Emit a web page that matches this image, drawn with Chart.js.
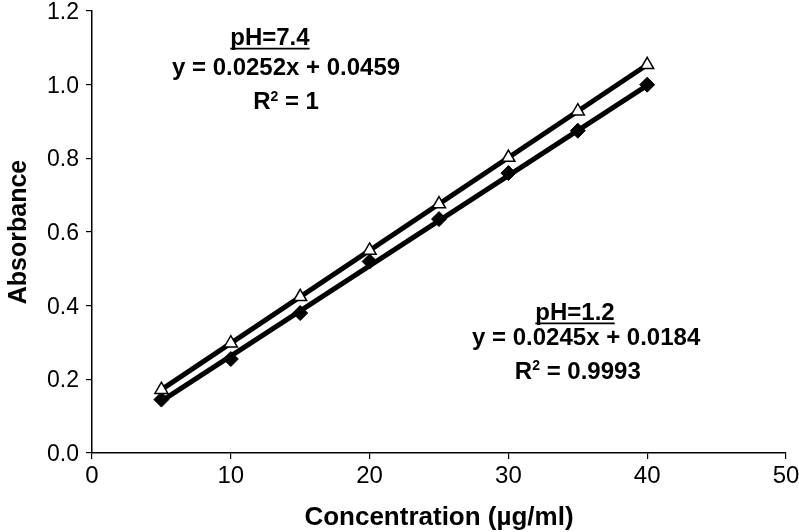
<!DOCTYPE html>
<html>
<head>
<meta charset="utf-8">
<script src="https://cdn.jsdelivr.net/npm/chart.js@4.4.1/dist/chart.umd.min.js"></script>
<style>
html,body{margin:0;padding:0;background:#fff;overflow:hidden;}
#wrap{width:799px;height:532px;}
</style>
</head>
<body>
<div id="wrap"><canvas id="c" width="799" height="532"></canvas></div>
<script>
const concentrations = [5, 10, 15, 20, 25, 30, 35, 40];
const absorbancePH74 = [0.172, 0.298, 0.424, 0.550, 0.676, 0.802, 0.928, 1.054];
const absorbancePH12 = [0.145, 0.255, 0.380, 0.520, 0.635, 0.760, 0.875, 1.000];
const trendX = [5, 40];
const trendPH74 = [0.172, 1.054];
const trendPH12 = [0.141, 0.998];
const xTicks = [0, 10, 20, 30, 40, 50];
const yTicks = [0.0, 0.2, 0.4, 0.6, 0.8, 1.0, 1.2];

const labelPH74 = ['pH=7.4', 'y = 0.0252x + 0.0459', '1'];
const labelPH12 = ['pH=1.2', 'y = 0.0245x + 0.0184', '0.9993'];
// annotation anchors in data units [title, equation, R2]
const annotPH74 = {x: [12.82, 13.98, 13.98], y: [1.125, 1.044, 0.951]};
const annotPH12 = {x: [34.8, 35.6, 35.0], y: [0.379, 0.310, 0.220]};

const toPts = (xs, ys) => xs.map((x, i) => ({x: x, y: ys[i]}));
const FAM = '"Liberation Sans", Arial, sans-serif';

const annotPlugin = {
  id: 'annot',
  afterDatasetsDraw(chart) {
    const ctx = chart.ctx;
    const xs = chart.scales.x, ys = chart.scales.y;
    const font = 'bold 24px ' + FAM;
    const small = 'bold 14px ' + FAM;
    function block(lbl, a) {
      ctx.save();
      ctx.fillStyle = '#000';
      ctx.strokeStyle = '#000';
      ctx.font = font;
      ctx.textAlign = 'center';
      ctx.textBaseline = 'middle';
      let px = xs.getPixelForValue(a.x[0]), py = ys.getPixelForValue(a.y[0]);
      ctx.fillText(lbl[0], px, py);
      const w = ctx.measureText(lbl[0]).width;
      ctx.lineWidth = 1.6;
      ctx.beginPath();
      ctx.moveTo(px - w / 2, py + 10);
      ctx.lineTo(px + w / 2, py + 10);
      ctx.stroke();
      px = xs.getPixelForValue(a.x[1]); py = ys.getPixelForValue(a.y[1]);
      ctx.fillText(lbl[1], px, py);
      px = xs.getPixelForValue(a.x[2]); py = ys.getPixelForValue(a.y[2]);
      const rest = ' = ' + lbl[2];
      const wR = ctx.measureText('R').width;
      const wRest = ctx.measureText(rest).width;
      ctx.font = small;
      const w2 = ctx.measureText('2').width;
      const sx = px - (wR + w2 + wRest) / 2;
      ctx.textAlign = 'left';
      ctx.font = font;
      ctx.fillText('R', sx, py);
      ctx.font = small;
      ctx.fillText('2', sx + wR, py - 6);
      ctx.font = font;
      ctx.fillText(rest, sx + wR + w2, py);
      ctx.restore();
    }
    block(labelPH74, annotPH74);
    block(labelPH12, annotPH12);
  }
};

new Chart(document.getElementById('c'), {
  type: 'scatter',
  data: {
    datasets: [
      {
        label: 'pH=7.4',
        data: toPts(concentrations, absorbancePH74),
        pointStyle: 'triangle',
        pointRadius: 7.5,
        pointBorderWidth: 1.5,
        pointBackgroundColor: '#fff',
        pointBorderColor: '#000',
        showLine: false
      },
      {
        label: 'pH=1.2',
        data: toPts(concentrations, absorbancePH12),
        pointStyle: 'rectRot',
        pointRadius: 7.5,
        pointBorderWidth: 1,
        pointBackgroundColor: '#000',
        pointBorderColor: '#000',
        showLine: false
      },
      {
        label: 'trend 7.4',
        data: toPts(trendX, trendPH74),
        showLine: true,
        borderColor: '#000',
        borderWidth: 5,
        pointRadius: 0
      },
      {
        label: 'trend 1.2',
        data: toPts(trendX, trendPH12),
        showLine: true,
        borderColor: '#000',
        borderWidth: 5,
        pointRadius: 0
      }
    ]
  },
  options: {
    responsive: false,
    animation: false,
    events: [],
    layout: {padding: {top: 11, right: 13, left: 0, bottom: 0}},
    plugins: {legend: {display: false}, tooltip: {enabled: false}},
    scales: {
      x: {
        type: 'linear',
        min: 0, max: 50,
        afterBuildTicks: (s) => { s.ticks = xTicks.map(v => ({value: v})); },
        ticks: {color: '#000', font: {family: FAM, size: 24}, padding: 3, maxRotation: 0},
        grid: {display: true, drawOnChartArea: false, drawTicks: true, tickLength: 6, color: '#000', lineWidth: 1.2},
        border: {display: true, color: '#000', width: 1.5},
        title: {display: true, text: 'Concentration (µg/ml)', color: '#000', font: {family: FAM, size: 26, weight: 'bold'}, padding: {top: 12, bottom: -1}},
        afterFit: (s) => { s.height = 79; s.paddingLeft = 0; s.paddingRight = 0; }
      },
      y: {
        type: 'linear',
        min: 0, max: 1.2,
        afterBuildTicks: (s) => { s.ticks = yTicks.map(v => ({value: v})); },
        ticks: {color: '#000', font: {family: FAM, size: 23}, padding: 7, labelOffset: 1.5, callback: (v) => Number(v).toFixed(1)},
        grid: {display: true, drawOnChartArea: false, drawTicks: true, tickLength: 6, color: '#000', lineWidth: 1.2},
        border: {display: true, color: '#000', width: 1.5},
        title: {display: true, text: 'Absorbance', color: '#000', font: {family: FAM, size: 25, weight: 'bold'}, padding: {bottom: 0}},
        afterFit: (s) => { s.width = 92; s.paddingTop = 0; s.paddingBottom = 0; }
      }
    }
  },
  plugins: [annotPlugin]
});
</script>
</body>
</html>
